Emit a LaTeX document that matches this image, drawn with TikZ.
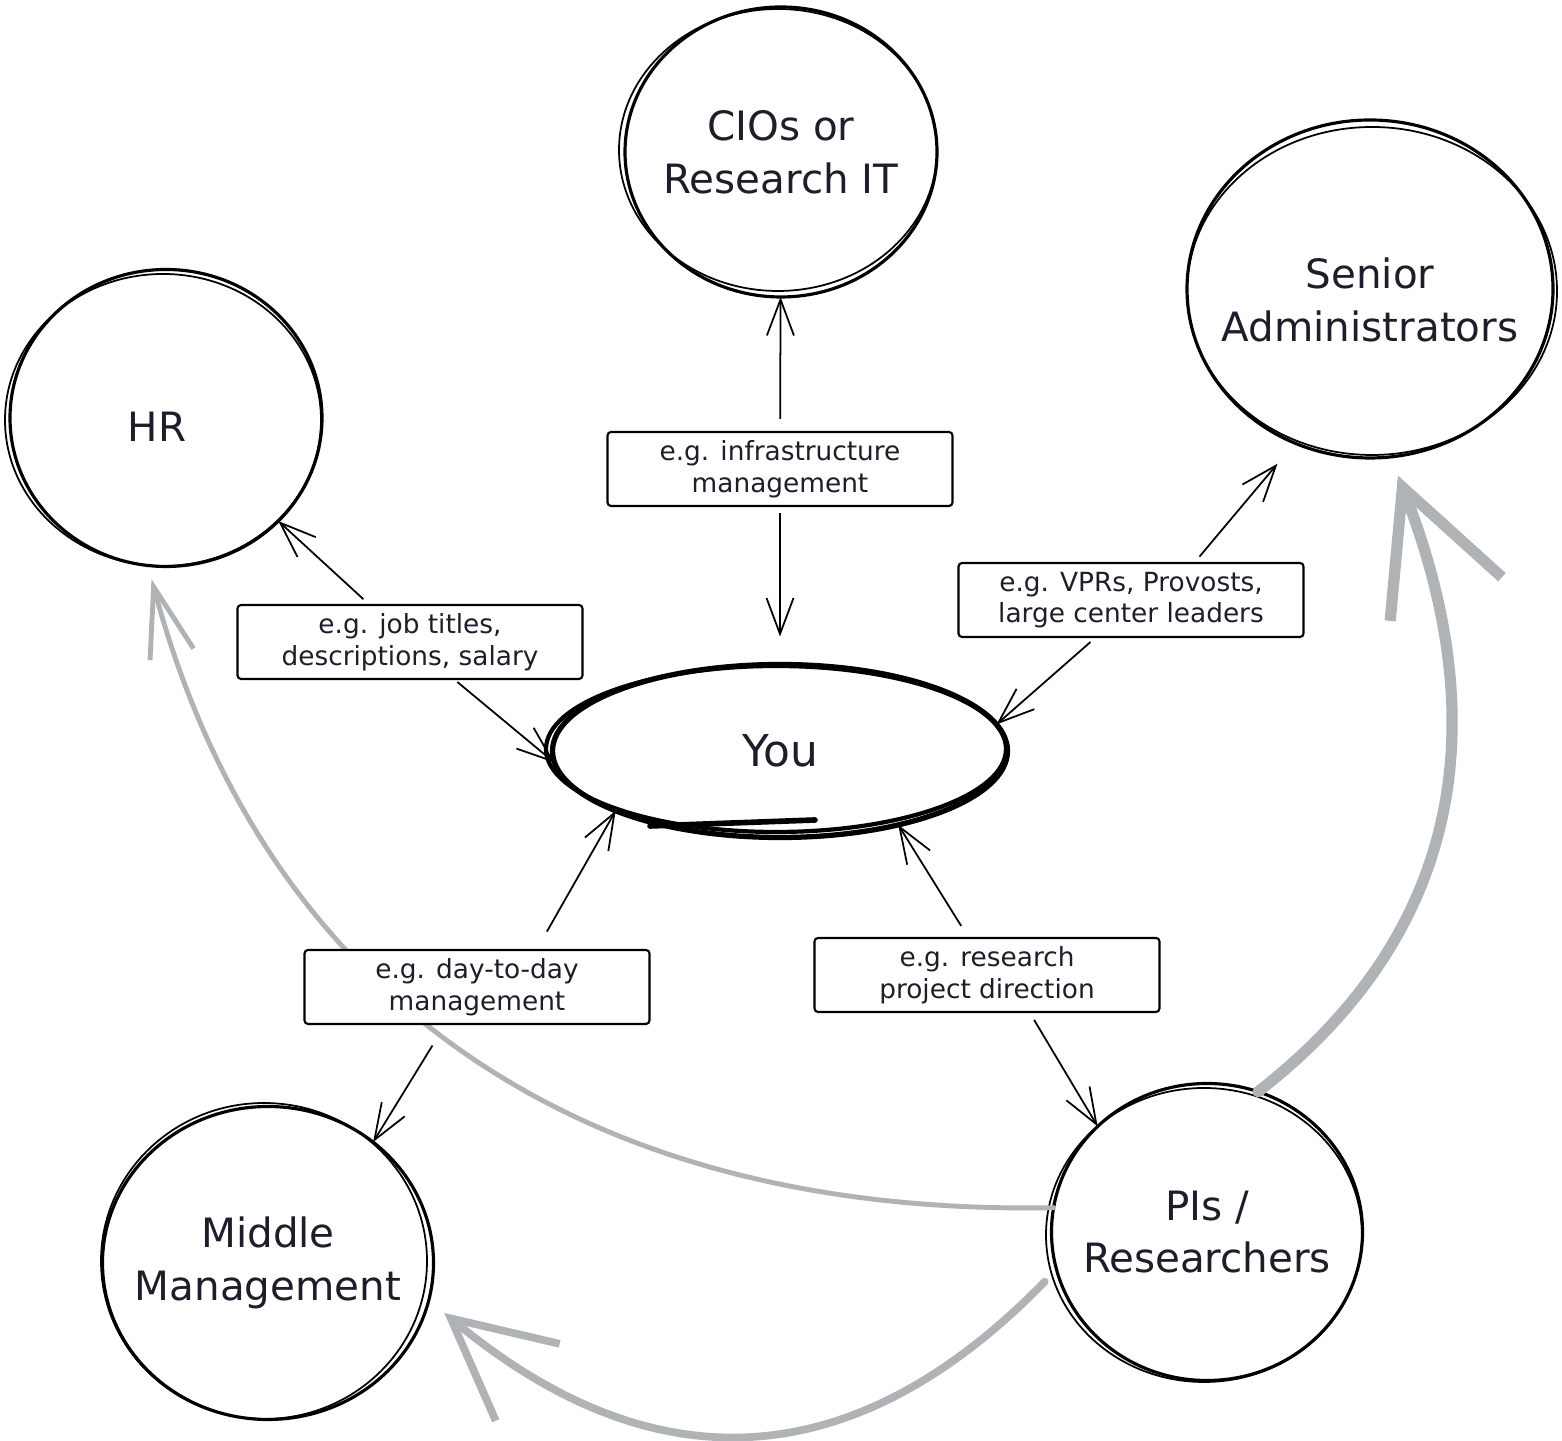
\documentclass[tikz,border=0pt]{standalone}
\usepackage{fontspec}
\setmainfont{DejaVu Sans}
\usetikzlibrary{arrows.meta, shapes.geometric}
\definecolor{ink}{HTML}{1E1E2A}
\definecolor{pencil}{HTML}{B0B3B5}

\begin{document}
\begin{tikzpicture}[
    ring/.style={ellipse, draw, line width=0.9pt, inner sep=0pt, outer sep=0pt},
    ring2/.style={line width=0.5pt},
    who/.style={text=ink, align=center, font=\fontsize{11.5}{15}\selectfont},
    tag/.style={draw, fill=white, line width=0.6pt, rounded corners=1pt,
                minimum width=3.45cm, minimum height=0.74cm, inner sep=0pt,
                align=center, text=ink, font=\fontsize{7.5}{9}\selectfont},
    arr/.style={-{Straight Barb[length=3.6mm,width=2.7mm]}, line width=0.5pt},
    flow/.style={pencil, line cap=round, line join=round}
  ]
    \useasboundingbox (0,0) rectangle (15.62,14.41);

    % groups round you
    \node[ring, minimum width=3.12cm, minimum height=2.90cm] (cio) at (7.81,12.89) {};
    \node[ring, minimum width=3.66cm, minimum height=3.38cm] (sen) at (13.70,11.52) {};
    \node[ring, minimum width=3.12cm, minimum height=2.97cm] (hr) at (1.66,10.23) {};
    \node[ring, minimum width=3.31cm, minimum height=3.13cm] (mid) at (2.68,1.78) {};
    \node[ring, minimum width=3.11cm, minimum height=2.97cm] (pis) at (12.07,2.09) {};
    \node[ring, line width=1.5pt, minimum width=4.55cm, minimum height=1.73cm] (you) at (7.80,6.90) {};

    \node[who] (cio-t) at (cio) {CIOs or\\Research IT};
    \node[who] (sen-t) at ([yshift=-0.11cm]sen) {Senior\\Administrators};
    \node[who] (hr-t) at ([shift={(-0.09,-0.09)}]hr) {HR};
    \node[who] (mid-t) at (mid) {Middle\\Management};
    \node[who] (pis-t) at (pis) {PIs /\\Researchers};
    \node[who, font=\fontsize{12.5}{15}\selectfont] (you-t) at (you) {You};

    % second pencil stroke
    \foreach \n/\dx/\dy/\rx/\ry in {cio/-0.03/0.02/1.59/1.41, sen/0.02/-0.02/1.85/1.64,
                                    hr/-0.03/-0.02/1.58/1.46, mid/-0.04/0.02/1.63/1.58,
                                    pis/-0.03/-0.03/1.58/1.47}
        \draw[ring2] ([shift={(\dx,\dy)}]\n.center) ellipse [x radius=\rx, y radius=\ry];
    \draw[line width=1.2pt] ([shift={(-0.04,0.02)}]you.center) ellipse [x radius=2.30, y radius=0.83];
    \draw[line width=1.6pt, line cap=round] ([shift={(-1.30,-0.75)}]you.center) -- ([shift={(0.35,-0.69)}]you.center);

    % grey arrows from the PIs
    \draw[flow, line width=3.2pt, -{Straight Barb[length=12mm,width=12mm]}, shorten >=0.2cm]
        (pis.70) .. controls (14.60,5.06) and (14.96,7.14) .. (sen.277);
    \draw[flow, line width=1.4pt, -{Straight Barb[length=7mm,width=4.5mm]}, shorten >=0.14cm]
        (pis.171) .. controls (5.97,2.25) and (2.68,4.28) .. (hr.263);
    \draw[flow, line width=2.2pt, -{Straight Barb[length=10mm,width=10mm]}, shorten <=0.17cm, shorten >=0.2cm]
        (pis.194) .. controls (8.73,-0.17) and (6.73,-0.62) .. (mid.347);

    % examples
    \node[tag] (infra) at (7.80,9.72) {e.g. infrastructure\\management};
    \node[tag] (job) at (4.10,7.99) {e.g. job titles,\\descriptions, salary};
    \node[tag] (vpr) at (11.31,8.41) {e.g. VPRs, Provosts,\\large center leaders};
    \node[tag] (day) at (4.77,4.54) {e.g. day-to-day\\management};
    \node[tag] (res) at (9.87,4.66) {e.g. research\\project direction};

    \draw[arr, shorten <=0.12cm] (infra) -- (cio);
    \draw[arr, shorten <=0.06cm, shorten >=0.28cm] (infra) -- (you);
    \draw[arr, shorten <=0.07cm] (job) -- (hr);
    \draw[arr, shorten <=0.03cm] ([xshift=0.45cm]job.south) -- (you.183);
    \draw[arr, shorten <=0.07cm, shorten >=0.27cm] ([xshift=0.64cm]vpr.north) -- (sen.244);
    \draw[arr, shorten <=0.06cm] ([xshift=-0.36cm]vpr.south) -- (you.7);
    \draw[arr, shorten <=0.2cm] ([xshift=0.60cm]day.north) -- (you.200);
    \draw[arr, shorten <=0.24cm] ([xshift=-0.32cm]day.south) -- (mid.49);
    \draw[arr, shorten <=0.13cm] ([xshift=-0.19cm]res.north) -- (you.328);
    \draw[arr, shorten <=0.08cm] ([xshift=0.43cm]res.south) -- (pis.136);
\end{tikzpicture}
\end{document}
